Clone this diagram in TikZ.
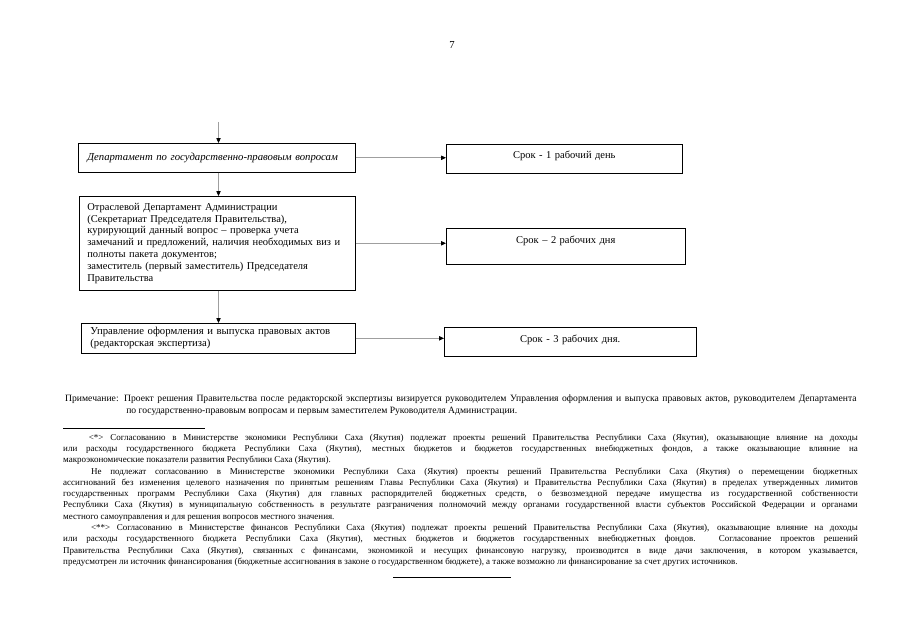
\documentclass[tikz,border=0pt]{standalone}
\usepackage{fontspec}
\setmainfont{Liberation Serif}
\usetikzlibrary{arrows.meta, positioning}

\begin{document}
\begin{tikzpicture}[
    x=0.3282mm, y=-0.3282mm,
    every node/.style={inner sep=0pt, anchor=north west},
    stagebox/.style={draw, line width=0.6pt, inner xsep=8.5pt, align=left, font=\fontsize{10}{11}\selectfont},
    termbox/.style={draw, line width=0.6pt, align=center, font=\fontsize{9.8}{11}\selectfont},
    flow/.style={draw=gray!75, line width=0.7pt, -{Triangle[length=4.5pt, width=4pt, color=black]}},
    notetext/.style={align=justify, font=\fontsize{9}{11.2}\selectfont},
    foottext/.style={align=justify, font=\fontsize{8.4}{10.55}\selectfont}
]
\useasboundingbox (0,0) rectangle (905,640);

\node[anchor=center, font=\fontsize{10}{12}\selectfont] (pagenum) at (452,45) {7};

% stages
\coordinate (entry) at (218.5,122);
\node[stagebox, text width=241.6pt, text height=16.3pt, text depth=10.7pt, font=\fontsize{10}{11}\selectfont\itshape] (dept) at (78,143) {Департамент по государственно-правовым вопросам};
\node[stagebox, inner xsep=7.5pt, text width=242.6pt, minimum height=87.7pt, font=\fontsize{9.8}{11}\selectfont] (office) at (79,196) {Отраслевой Департамент Администрации\\
(Секретариат Председателя Правительства),\\
курирующий данный вопрос – проверка учета\\
замечаний и предложений, наличия необходимых виз и\\
полноты пакета документов;\\
заместитель (первый заместитель) Председателя\\
Правительства};
\node[stagebox, text width=238.8pt, minimum height=28pt] (legal) at (81,323) {Управление оформления и выпуска правовых актов\\
(редакторская экспертиза)};

% terms
\node[termbox, text width=220.3pt, text height=13.1pt, text depth=14pt] (term1) at (446,144) {Срок - 1 рабочий день};
\node[termbox, text width=223.1pt, text height=14pt, text depth=19.6pt] (term2) at (446,228) {Срок – 2 рабочих дня};
\node[termbox, text width=235.2pt, text height=14pt, text depth=13.1pt] (term3) at (444,327) {Срок - 3 рабочих дня.};

% connectors
\draw[flow] (entry) -- (entry |- dept.north);
\draw[flow] (dept.south -| entry) -- (office.north -| entry);
\draw[flow] (office.south -| entry) -- (legal.north -| entry);
\draw[flow] (dept.east) -- (dept.east -| term1.west);
\draw[flow] (office.east) -- (office.east -| term2.west);
\draw[flow] (legal.east) -- (legal.east -| term3.west);

% note
\node[notetext, text width=739pt] (note) at (65,395) {\tolerance=9999
Примечание: Проект решения Правительства после редакторской экспертизы визируется руководителем Управления оформления и выпуска правовых актов, руководителем Департамента\linebreak
\hspace*{57pt}по государственно-правовым вопросам и первым заместителем Руководителя Администрации.};

% footnotes
\draw[line width=0.5pt] (63,428) -- (205,428);
\node[foottext, text width=742pt] (footnotes) at (63,433.5) {\tolerance=9999
\hspace*{24pt}<*> Согласованию в Министерстве экономики Республики Саха (Якутия) подлежат проекты решений Правительства Республики Саха (Якутия), оказывающие влияние на доходы\linebreak
или расходы государственного бюджета Республики Саха (Якутия), местных бюджетов и бюджетов государственных внебюджетных фондов, а также оказывающие влияние на\linebreak
макроэкономические показатели развития Республики Саха (Якутия).\par
\hspace*{26pt}Не подлежат согласованию в Министерстве экономики Республики Саха (Якутия) проекты решений Правительства Республики Саха (Якутия) о перемещении бюджетных\linebreak
ассигнований без изменения целевого назначения по принятым решениям Главы Республики Саха (Якутия) и Правительства Республики Саха (Якутия) в пределах утвержденных лимитов\linebreak
государственных программ Республики Саха (Якутия) для главных распорядителей бюджетных средств, о безвозмездной передаче имущества из государственной собственности\linebreak
Республики Саха (Якутия) в муниципальную собственность в результате разграничения полномочий между органами государственной власти субъектов Российской Федерации и органами\linebreak
местного самоуправления и для решения вопросов местного значения.\par
\hspace*{26pt}<**> Согласованию в Министерстве финансов Республики Саха (Якутия) подлежат проекты решений Правительства Республики Саха (Якутия), оказывающие влияние на доходы\linebreak
или расходы государственного бюджета Республики Саха (Якутия), местных бюджетов и бюджетов государственных внебюджетных фондов. Согласование проектов решений\linebreak
Правительства Республики Саха (Якутия), связанных с финансами, экономикой и несущих финансовую нагрузку, производится в виде дачи заключения, в котором указывается,\linebreak
предусмотрен ли источник финансирования (бюджетные ассигнования в законе о государственном бюджете), а также возможно ли финансирование за счет других источников.};
\draw[line width=0.5pt] (393,577) -- (511,577);

\end{tikzpicture}
\end{document}
